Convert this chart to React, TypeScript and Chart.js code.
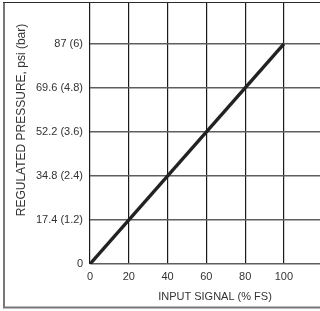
import React, { useEffect, useRef } from "react";
import { Chart, registerables } from "chart.js";

Chart.register(...registerables);

const inputSignal = [0, 100];
const pressurePsi = [0, 87];
const xTicks = [0, 20, 40, 60, 80, 100];
const yTicks = [0, 17.4, 34.8, 52.2, 69.6, 87];
const yTickLabels = ["0", "17.4 (1.2)", "34.8 (2.4)", "52.2 (3.6)", "69.6 (4.8)", "87 (6)"];
const xTitle = "INPUT SIGNAL (% FS)";
const yTitle = "REGULATED PRESSURE, psi (bar)";

const FONT = "'Liberation Sans', Arial, sans-serif";

const framePlugin = {
  id: "frameAndTitles",
  afterDraw(chart: any) {
    const ctx = chart.ctx;
    ctx.save();
    // outer frame
    ctx.strokeStyle = "#777";
    ctx.lineWidth = 2;
    ctx.beginPath();
    ctx.moveTo(4, 2);
    ctx.lineTo(4, 307.5);
    ctx.lineTo(320, 307.5);
    ctx.stroke();
    ctx.strokeStyle = "#2a2a2a";
    ctx.lineWidth = 1;
    ctx.beginPath();
    ctx.moveTo(3, 2.5);
    ctx.lineTo(320, 2.5);
    ctx.stroke();
    // axis titles
    ctx.fillStyle = "#333";
    ctx.textAlign = "center";
    ctx.textBaseline = "middle";
    ctx.font = `11px ${FONT}`;
    ctx.fillText(xTitle, 215, 297);
    ctx.translate(22, 120);
    ctx.rotate(-Math.PI / 2);
    ctx.font = `12px ${FONT}`;
    ctx.fillText(yTitle, 0, 0);
    ctx.restore();
  },
};

export default function App() {
  const ref = useRef<HTMLCanvasElement | null>(null);
  useEffect(() => {
    if (!ref.current) return;
    const chart = new Chart(ref.current, {
      type: "line",
      data: {
        datasets: [
          {
            data: inputSignal.map((x, i) => ({ x, y: pressurePsi[i] })),
            borderColor: "#222",
            borderWidth: 3.4,
            pointRadius: 0,
            fill: false,
          },
        ],
      },
      options: {
        responsive: false,
        animation: false,
        layout: { padding: { top: 2, left: 0, right: 0, bottom: 0 } },
        plugins: { legend: { display: false }, tooltip: { enabled: false } },
        scales: {
          x: {
            type: "linear",
            min: 0,
            max: 118.6,
            afterBuildTicks: (s: any) => {
              s.ticks = xTicks.map((v) => ({ value: v }));
            },
            afterFit: (s: any) => {
              s.height = 47;
              s.paddingLeft = 0;
              s.paddingRight = 0;
            },
            border: { display: false },
            grid: { color: "#1a1a1a", lineWidth: 1.2, drawTicks: false },
            ticks: {
              padding: 6,
              color: "#333",
              font: { family: FONT, size: 11 },
              maxRotation: 0,
              callback: (v: any) => String(v),
            },
          },
          y: {
            type: "linear",
            min: 0,
            max: 103.6,
            afterBuildTicks: (s: any) => {
              s.ticks = yTicks.map((v) => ({ value: v }));
            },
            afterFit: (s: any) => {
              s.width = 90;
              s.paddingTop = 0;
              s.paddingBottom = 0;
            },
            border: { display: false },
            grid: { color: "#5e5e5e", lineWidth: 1.5, drawTicks: false },
            ticks: {
              padding: 7,
              color: "#333",
              font: { family: FONT, size: 11 },
              callback: (v: any) => {
                const i = yTicks.indexOf(Number(v));
                return i >= 0 ? yTickLabels[i] : "";
              },
            },
          },
        },
      },
      plugins: [framePlugin],
    });
    return () => chart.destroy();
  }, []);
  return (
    <div style={{ position: "absolute", left: 0, top: 0, width: 320, height: 311 }}>
      <canvas ref={ref} width={320} height={311} />
    </div>
  );
}
